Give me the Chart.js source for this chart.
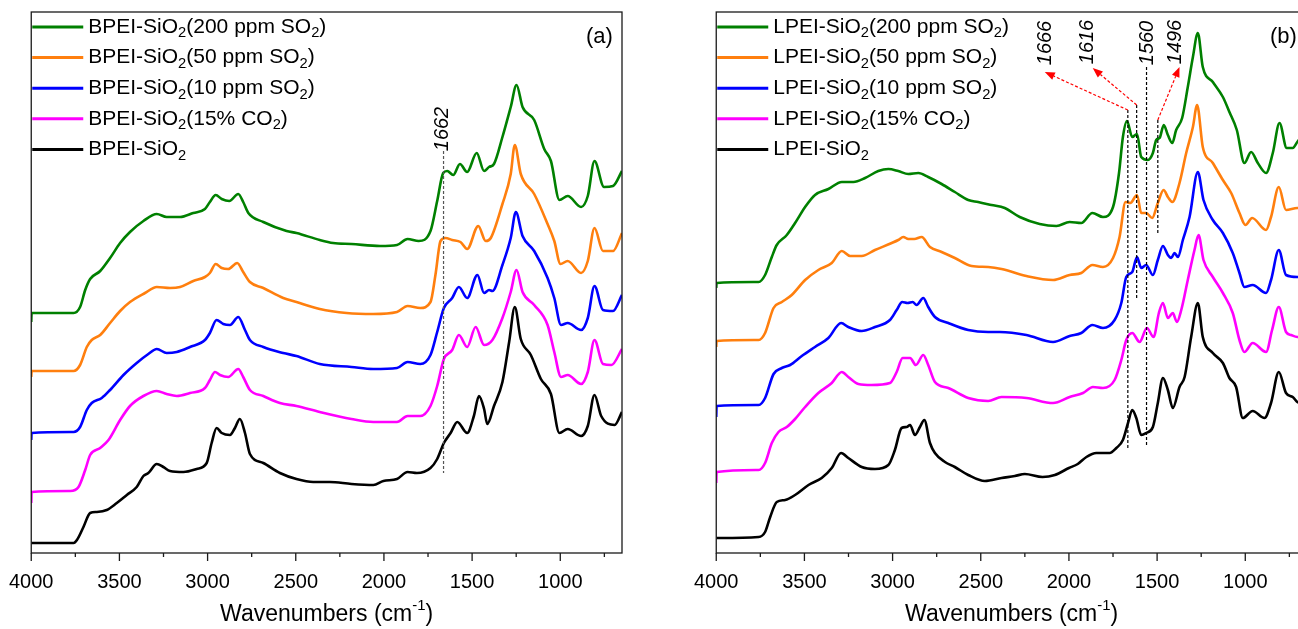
<!DOCTYPE html>
<html>
<head>
<meta charset="utf-8">
<script src="https://cdn.jsdelivr.net/npm/chart.js@4.4.1/dist/chart.umd.min.js"></script>
<style>
  html, body { margin: 0; padding: 0; background: #fff; overflow: hidden; }
  #wrap { position: relative; width: 1298px; height: 629px; overflow: hidden; }
  .panel { position: absolute; top: 0; width: 645px; height: 629px; }
  #panelA { left: 0; }
  #panelB { left: 685px; }
</style>
</head>
<body>
<div id="wrap">
  <div class="panel" id="panelA"><canvas id="chartA"></canvas></div>
  <div class="panel" id="panelB"><canvas id="chartB"></canvas></div>
</div>
<script>
// x axis ticks (cm-1)
const tickValues = [4000, 3500, 3000, 2500, 2000, 1500, 1000];
const minorTickValues = [3750, 3250, 2750, 2250, 1750, 1250, 750];

// ---- panel (a): BPEI-SiO2 ----
const bpeiLabels = ['BPEI-SiO{2}(200 ppm SO{2})', 'BPEI-SiO{2}(50 ppm SO{2})', 'BPEI-SiO{2}(10 ppm SO{2})', 'BPEI-SiO{2}(15% CO{2})', 'BPEI-SiO{2}'];

const bpei200Wn = [4000, 3998, 3760, 3723, 3694, 3666, 3609, 3553, 3496, 3440, 3364, 3288, 3232, 3156, 3081, 3015, 2987, 2954, 2920, 2877, 2826, 2798, 2769, 2684, 2552, 2496, 2364, 2288, 2184, 2022, 1926, 1866, 1803, 1736, 1698, 1664, 1641, 1607, 1569, 1528, 1474, 1432, 1404, 1376, 1328, 1281, 1248, 1214, 1148, 1091, 1053, 1005, 958, 882, 844, 806, 752, 701, 650];
const bpei200Abs = [232, 241, 241, 247, 264, 275, 283, 296, 311, 322, 333, 340, 337, 337, 341, 345, 352, 359, 355, 353, 360, 352, 341, 332, 323, 321, 314, 311, 310, 308, 309, 315, 313, 323, 353, 381, 383, 379, 390, 382, 401, 383, 387, 390, 417, 447, 469, 447, 434, 405, 393, 354, 358, 347, 358, 393, 367, 368, 383];

const bpei50Wn = [4000, 3998, 3760, 3723, 3685, 3657, 3609, 3553, 3496, 3440, 3355, 3288, 3213, 3156, 3081, 3015, 2987, 2954, 2920, 2883, 2832, 2798, 2760, 2684, 2571, 2496, 2364, 2212, 2060, 1926, 1866, 1794, 1736, 1708, 1679, 1651, 1613, 1566, 1528, 1465, 1423, 1394, 1328, 1281, 1258, 1224, 1148, 1072, 1034, 999, 958, 882, 844, 806, 758, 701, 650];
const bpei50Abs = [177, 183, 183, 189, 207, 214, 219, 231, 243, 252, 261, 267, 266, 267, 273, 277, 281, 290, 286, 285, 291, 282, 272, 266, 256, 252, 245, 241, 240, 242, 248, 246, 252, 279, 313, 316, 314, 312, 305, 328, 313, 316, 350, 380, 409, 380, 360, 330, 313, 290, 293, 281, 293, 326, 303, 303, 321];

const bpei10Wn = [4000, 3998, 3760, 3723, 3685, 3657, 3600, 3553, 3477, 3402, 3336, 3288, 3232, 3175, 3100, 3015, 2987, 2949, 2911, 2873, 2826, 2788, 2760, 2684, 2571, 2496, 2364, 2184, 2060, 1926, 1866, 1794, 1736, 1698, 1660, 1613, 1575, 1528, 1470, 1432, 1404, 1385, 1328, 1281, 1252, 1214, 1148, 1072, 1034, 996, 958, 882, 844, 806, 758, 701, 650];
const bpei10Abs = [114, 121, 122, 127, 144, 151, 156, 164, 179, 191, 200, 205, 201, 202, 207, 214, 221, 234, 230, 229, 237, 224, 214, 207, 201, 198, 190, 187, 185, 186, 192, 190, 199, 222, 246, 256, 267, 256, 279, 261, 264, 263, 289, 316, 342, 318, 303, 276, 256, 229, 231, 224, 236, 268, 244, 243, 259];

const bpeiCo2Wn = [4000, 3998, 3779, 3732, 3694, 3666, 3609, 3562, 3496, 3440, 3364, 3288, 3232, 3175, 3100, 3015, 2987, 2958, 2930, 2883, 2826, 2798, 2760, 2684, 2590, 2496, 2364, 2184, 2060, 1926, 1866, 1794, 1736, 1698, 1660, 1613, 1575, 1528, 1480, 1432, 1385, 1328, 1281, 1248, 1214, 1148, 1072, 1034, 996, 958, 882, 844, 806, 758, 710, 650];
const bpeiCo2Abs = [51, 62, 63, 67, 84, 99, 106, 114, 134, 148, 158, 163, 160, 158, 161, 166, 174, 182, 179, 177, 185, 177, 164, 158, 151, 148, 142, 135, 132, 132, 138, 138, 148, 168, 195, 204, 219, 207, 227, 209, 214, 236, 262, 284, 262, 249, 229, 202, 177, 179, 170, 182, 214, 190, 189, 205];

const bpeiBaseWn = [4000, 3760, 3741, 3704, 3666, 3628, 3572, 3515, 3458, 3402, 3364, 3336, 3288, 3251, 3213, 3137, 3062, 3005, 2977, 2949, 2920, 2873, 2845, 2817, 2788, 2760, 2684, 2590, 2496, 2401, 2307, 2184, 2060, 2003, 1926, 1866, 1813, 1736, 1698, 1660, 1622, 1584, 1528, 1490, 1461, 1432, 1414, 1376, 1328, 1290, 1258, 1224, 1167, 1110, 1053, 1005, 958, 882, 844, 806, 768, 692, 650];
const bpeiBaseAbs = [11, 11, 14, 27, 41, 42, 44, 51, 59, 67, 78, 81, 90, 87, 83, 82, 85, 91, 111, 126, 121, 119, 126, 135, 121, 100, 91, 81, 75, 72, 72, 70, 69, 73, 75, 82, 81, 86, 95, 111, 121, 132, 121, 138, 158, 145, 130, 148, 172, 212, 247, 215, 199, 175, 160, 121, 125, 118, 128, 159, 138, 129, 142];

// ---- panel (b): LPEI-SiO2 ----
const lpeiLabels = ['LPEI-SiO{2}(200 ppm SO{2})', 'LPEI-SiO{2}(50 ppm SO{2})', 'LPEI-SiO{2}(10 ppm SO{2})', 'LPEI-SiO{2}(15% CO{2})', 'LPEI-SiO{2}'];

const lpei200Wn = [4000, 3998, 3760, 3723, 3685, 3657, 3600, 3553, 3496, 3440, 3364, 3288, 3222, 3156, 3081, 3024, 2968, 2911, 2854, 2798, 2722, 2647, 2571, 2515, 2439, 2364, 2279, 2166, 2071, 1996, 1930, 1867, 1807, 1750, 1716, 1694, 1671, 1641, 1614, 1590, 1552, 1524, 1505, 1486, 1462, 1439, 1414, 1392, 1358, 1326, 1297, 1269, 1241, 1184, 1127, 1090, 1048, 1005, 967, 929, 882, 844, 806, 765, 731, 705, 680];
const lpei200Abs = [266, 271, 272, 279, 297, 309, 319, 331, 347, 359, 365, 372, 372, 376, 383, 385, 383, 380, 381, 377, 370, 362, 354, 352, 349, 346, 337, 330, 328, 332, 331, 341, 337, 347, 381, 417, 433, 417, 420, 397, 394, 401, 414, 416, 429, 419, 411, 424, 436, 467, 497, 521, 487, 472, 457, 442, 424, 391, 402, 391, 381, 401, 431, 406, 406, 412, 418];

const lpei50Wn = [4000, 3998, 3760, 3723, 3675, 3628, 3572, 3496, 3421, 3345, 3288, 3241, 3175, 3100, 3005, 2968, 2939, 2911, 2877, 2835, 2788, 2722, 2647, 2552, 2458, 2382, 2241, 2090, 1996, 1930, 1867, 1807, 1750, 1713, 1679, 1652, 1614, 1590, 1562, 1528, 1496, 1463, 1439, 1414, 1373, 1335, 1297, 1273, 1241, 1184, 1127, 1080, 1033, 999, 961, 882, 854, 810, 769, 705, 680];
const lpei50Abs = [207, 213, 214, 221, 246, 252, 259, 274, 284, 291, 303, 298, 298, 304, 311, 314, 317, 315, 315, 317, 307, 302, 296, 288, 287, 285, 278, 274, 279, 281, 289, 287, 296, 317, 352, 351, 359, 341, 341, 336, 351, 364, 357, 352, 371, 401, 427, 449, 407, 391, 374, 361, 341, 329, 336, 324, 337, 367, 344, 346, 346];

const lpei10Wn = [4000, 3998, 3760, 3723, 3675, 3628, 3581, 3515, 3440, 3364, 3292, 3251, 3175, 3100, 3015, 2977, 2945, 2915, 2886, 2864, 2826, 2798, 2760, 2684, 2571, 2458, 2392, 2241, 2090, 1996, 1930, 1867, 1807, 1741, 1703, 1675, 1641, 1614, 1590, 1562, 1524, 1496, 1467, 1439, 1420, 1401, 1382, 1354, 1316, 1269, 1237, 1184, 1127, 1071, 1033, 1005, 958, 882, 854, 810, 769, 705, 680];
const lpei10Abs = [137, 148, 149, 156, 180, 186, 189, 198, 207, 216, 231, 227, 223, 227, 234, 244, 252, 251, 252, 249, 256, 247, 237, 231, 224, 222, 222, 219, 212, 218, 221, 229, 226, 234, 251, 277, 282, 297, 286, 289, 279, 294, 308, 299, 296, 301, 297, 314, 337, 382, 354, 334, 321, 301, 281, 267, 269, 261, 274, 304, 279, 277, 277];

const lpeiCo2Wn = [4000, 3998, 3760, 3723, 3685, 3647, 3600, 3553, 3496, 3421, 3345, 3288, 3251, 3194, 3119, 3015, 2977, 2943, 2901, 2868, 2826, 2798, 2760, 2684, 2571, 2458, 2382, 2241, 2090, 1996, 1920, 1864, 1807, 1741, 1703, 1675, 1641, 1599, 1558, 1520, 1490, 1467, 1439, 1411, 1388, 1363, 1326, 1288, 1265, 1237, 1184, 1127, 1071, 1033, 1005, 958, 882, 848, 810, 769, 740, 705, 680];
const lpeiCo2Abs = [71, 82, 84, 91, 111, 122, 127, 135, 147, 161, 171, 182, 177, 170, 169, 171, 182, 196, 196, 189, 199, 189, 172, 166, 156, 153, 157, 156, 151, 157, 161, 167, 166, 174, 194, 214, 221, 212, 226, 217, 241, 251, 236, 241, 232, 244, 274, 304, 319, 294, 277, 261, 241, 214, 202, 211, 202, 224, 247, 222, 219, 217, 218];

const lpeiBaseWn = [4000, 3760, 3723, 3694, 3657, 3609, 3553, 3477, 3402, 3345, 3292, 3251, 3175, 3100, 3024, 2987, 2949, 2920, 2901, 2873, 2845, 2820, 2788, 2760, 2703, 2647, 2571, 2477, 2382, 2307, 2250, 2150, 2080, 2000, 1950, 1901, 1845, 1769, 1731, 1694, 1665, 1641, 1618, 1590, 1562, 1524, 1496, 1467, 1439, 1411, 1373, 1344, 1307, 1269, 1241, 1184, 1127, 1090, 1052, 1014, 958, 891, 854, 810, 769, 731, 705, 680];
const lpeiBaseAbs = [16, 17, 22, 37, 52, 54, 59, 69, 76, 86, 101, 96, 87, 85, 89, 104, 126, 127, 129, 119, 127, 134, 111, 101, 92, 87, 79, 73, 76, 78, 80, 77, 79, 86, 90, 97, 101, 101, 106, 114, 131, 144, 136, 119, 121, 127, 151, 176, 164, 146, 167, 177, 217, 251, 217, 201, 191, 176, 167, 136, 143, 136, 151, 182, 161, 157, 152, 150];

// peak markers
const peakLinesA = [{ wn: 1662, top: 403, bottom: 81 }];
const peakTextA = [{ text: '1662', wn: 1667, abs: 425 }];
const peakLinesB = [
  { wn: 1666, top: 444, bottom: 104 },
  { wn: 1616, top: 449, bottom: 254 },
  { wn: 1560, top: 487, bottom: 107 },
  { wn: 1496, top: 434, bottom: 321 }
];
const peakArrowsB = [
  { fromWn: 1666, fromAbs: 444, toWn: 2137, toAbs: 482 },
  { fromWn: 1616, fromAbs: 449, toWn: 1865, toAbs: 486 },
  { fromWn: 1496, fromAbs: 434, toWn: 1373, toAbs: 487 }
];
const peakTextB = [
  { text: '1666', wn: 2131, abs: 511 },
  { text: '1616', wn: 1893, abs: 512 },
  { text: '1560', wn: 1553, abs: 511 },
  { text: '1496', wn: 1394, abs: 512 }
];

const colors = ['#008000', '#ff7f0e', '#0000ff', '#ff00ff', '#000000'];
const FONT = '"Liberation Sans", Arial, Helvetica, sans-serif';

// text with {subscript} and [superscript] parts
function richParts(text) {
    return text.split(/(\{[^}]*\}|\[[^\]]*\])/).filter(s => s.length).map(s => {
        if (s[0] === '{') return { t: s.slice(1, -1), shift: 0.3, scale: 0.7 };
        if (s[0] === '[') return { t: s.slice(1, -1), shift: -0.38, scale: 0.65 };
        return { t: s, shift: 0, scale: 1 };
    });
}

function drawRich(ctx, text, x, y, size, align) {
    const parts = richParts(text);
    ctx.textBaseline = 'middle';
    ctx.textAlign = 'left';
    let total = 0;
    parts.forEach(p => {
        ctx.font = `${size * p.scale}px ${FONT}`;
        p.w = ctx.measureText(p.t).width;
        total += p.w;
    });
    let cx = align === 'center' ? x - total / 2 : x;
    parts.forEach(p => {
        ctx.font = `${size * p.scale}px ${FONT}`;
        ctx.fillText(p.t, cx, y + p.shift * size);
        cx += p.w;
    });
}

function makeDecor(cfg) {
    return {
        id: 'decor',
        afterDraw(chart) {
            const { ctx, chartArea: a, scales: { x, y } } = chart;
            ctx.save();

            // frame
            ctx.strokeStyle = '#1a1a1a';
            ctx.lineWidth = 1.3;
            ctx.strokeRect(a.left, a.top, a.right - a.left, a.bottom - a.top);

            // tick marks
            ctx.beginPath();
            tickValues.forEach(v => {
                const px = x.getPixelForValue(v);
                ctx.moveTo(px, a.bottom);
                ctx.lineTo(px, a.bottom + 8);
            });
            minorTickValues.forEach(v => {
                const px = x.getPixelForValue(v);
                ctx.moveTo(px, a.bottom);
                ctx.lineTo(px, a.bottom + 4);
            });
            ctx.stroke();

            // axis title
            ctx.fillStyle = '#000';
            drawRich(ctx, 'Wavenumbers (cm[-1])', (a.left + a.right) / 2, 615, 23, 'center');

            // legend
            cfg.labels.forEach((lab, i) => {
                const ly = a.top + 15 + i * 30.6;
                ctx.strokeStyle = colors[i];
                ctx.lineWidth = 3;
                ctx.beginPath();
                ctx.moveTo(a.left + 1, ly);
                ctx.lineTo(a.left + 52, ly);
                ctx.stroke();
                ctx.fillStyle = '#000';
                drawRich(ctx, lab, a.left + 57, ly, 21, 'left');
            });

            // panel label
            ctx.font = `22px ${FONT}`;
            ctx.textAlign = 'left';
            ctx.textBaseline = 'middle';
            ctx.fillText(cfg.panel, a.right - cfg.panelInset, a.top + 25);

            // dashed peak lines
            cfg.lines.forEach(l => {
                const px = x.getPixelForValue(l.wn);
                ctx.strokeStyle = cfg.lineColor;
                ctx.lineWidth = 1.2;
                ctx.setLineDash([3, 2]);
                ctx.beginPath();
                ctx.moveTo(px, y.getPixelForValue(l.top));
                ctx.lineTo(px, y.getPixelForValue(l.bottom));
                ctx.stroke();
            });

            // red arrows
            cfg.arrows.forEach(r => {
                const x0 = x.getPixelForValue(r.fromWn), y0 = y.getPixelForValue(r.fromAbs);
                const x1 = x.getPixelForValue(r.toWn), y1 = y.getPixelForValue(r.toAbs);
                const ang = Math.atan2(y1 - y0, x1 - x0);
                const hl = 10, hw = 4;
                ctx.strokeStyle = '#ff0000';
                ctx.fillStyle = '#ff0000';
                ctx.lineWidth = 1.2;
                ctx.setLineDash([3, 2]);
                ctx.beginPath();
                ctx.moveTo(x0, y0);
                ctx.lineTo(x1 - hl * Math.cos(ang), y1 - hl * Math.sin(ang));
                ctx.stroke();
                ctx.setLineDash([]);
                ctx.beginPath();
                ctx.moveTo(x1, y1);
                ctx.lineTo(x1 - hl * Math.cos(ang) + hw * Math.sin(ang), y1 - hl * Math.sin(ang) - hw * Math.cos(ang));
                ctx.lineTo(x1 - hl * Math.cos(ang) - hw * Math.sin(ang), y1 - hl * Math.sin(ang) + hw * Math.cos(ang));
                ctx.closePath();
                ctx.fill();
            });
            ctx.setLineDash([]);

            // rotated peak labels
            cfg.texts.forEach(t => {
                ctx.save();
                ctx.translate(x.getPixelForValue(t.wn), y.getPixelForValue(t.abs));
                ctx.rotate(-Math.PI / 2);
                ctx.font = `italic 20px ${FONT}`;
                ctx.fillStyle = '#000';
                ctx.textAlign = 'center';
                ctx.textBaseline = 'middle';
                ctx.fillText(t.text, 0, 0);
                ctx.restore();
            });

            ctx.restore();
        }
    };
}

function makeChart(canvasId, seriesWn, seriesAbs, cfg) {
    const ctx = document.getElementById(canvasId).getContext('2d');
    const datasets = seriesWn.map((wn, i) => ({
        label: cfg.labels[i].replace(/[{}]/g, ''),
        data: wn.map((w, j) => ({ x: w, y: seriesAbs[i][j] })),
        borderColor: colors[i],
        borderWidth: 2.6,
        pointRadius: 0,
        fill: false,
        cubicInterpolationMode: 'monotone'
    }));

    return new Chart(ctx, {
        type: 'line',
        data: { datasets: datasets },
        options: {
            responsive: true,
            maintainAspectRatio: false,
            animation: false,
            layout: {
                padding: { left: 31, right: 23, top: 12, bottom: 0 }
            },
            plugins: {
                legend: { display: false },
                tooltip: { enabled: false }
            },
            scales: {
                x: {
                    type: 'linear',
                    reverse: true,
                    min: 650,
                    max: 4000,
                    grid: { display: false },
                    border: { display: false },
                    afterBuildTicks: s => { s.ticks = tickValues.map(v => ({ value: v })); },
                    afterFit: s => { s.height = 76; },
                    ticks: {
                        color: '#000',
                        padding: 9,
                        maxRotation: 0,
                        autoSkip: false,
                        font: { family: FONT, size: 20 },
                        callback: v => String(v)
                    }
                },
                y: {
                    display: false,
                    min: 1,
                    max: 542
                }
            }
        },
        plugins: [makeDecor(cfg)]
    });
}

makeChart('chartA',
    [bpei200Wn, bpei50Wn, bpei10Wn, bpeiCo2Wn, bpeiBaseWn],
    [bpei200Abs, bpei50Abs, bpei10Abs, bpeiCo2Abs, bpeiBaseAbs],
    { labels: bpeiLabels, panel: '(a)', panelInset: 36, lines: peakLinesA, lineColor: '#555555', arrows: [], texts: peakTextA });

makeChart('chartB',
    [lpei200Wn, lpei50Wn, lpei10Wn, lpeiCo2Wn, lpeiBaseWn],
    [lpei200Abs, lpei50Abs, lpei10Abs, lpeiCo2Abs, lpeiBaseAbs],
    { labels: lpeiLabels, panel: '(b)', panelInset: 37, lines: peakLinesB, lineColor: '#000000', arrows: peakArrowsB, texts: peakTextB });
</script>
</body>
</html>
